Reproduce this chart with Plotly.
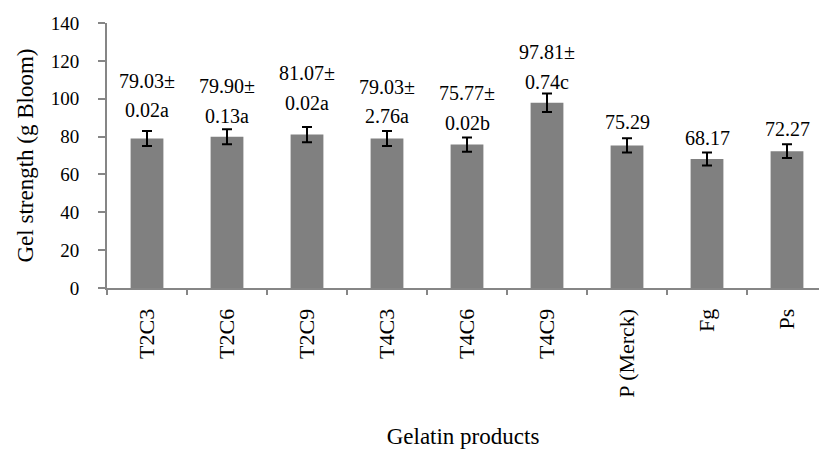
import plotly.graph_objects as go

categories = ["T2C3", "T2C6", "T2C9", "T4C3", "T4C6", "T4C9", "P (Merck)", "Fg", "Ps"]
gel_strength = [79.03, 79.90, 81.07, 79.03, 75.77, 97.81, 75.29, 68.17, 72.27]
error_bars = [3.95, 4.00, 4.05, 3.95, 3.79, 4.89, 3.76, 3.41, 3.61]
label_line1 = ["79.03±", "79.90±", "81.07±", "79.03±", "75.77±", "97.81±", "75.29", "68.17", "72.27"]
label_line2 = ["0.02a", "0.13a", "0.02a", "2.76a", "0.02b", "0.74c", "", "", ""]
y_ticks = [0, 20, 40, 60, 80, 100, 120, 140]

# style: pixel distance of the lowest label line above the bar top
label_offsets = [30, 23, 34, 24, 24, 23, 25, 23, 24]
LINE_GAP = 29.5

FONT = "Liberation Serif"

fig = go.Figure()
fig.add_trace(go.Bar(
    x=categories, y=gel_strength, width=0.41,
    marker=dict(color="#808080", line=dict(width=0)),
    error_y=dict(type="data", array=error_bars, visible=True,
                 color="black", thickness=2, width=5),
    hoverinfo="skip", showlegend=False,
))

annotations = []
for cat, val, l1, l2, off in zip(categories, gel_strength, label_line1, label_line2, label_offsets):
    if l2:
        annotations.append(dict(x=cat, y=val, xref="x", yref="y", text=l2, showarrow=False,
                                yanchor="middle", yshift=off - 2,
                                font=dict(family=FONT, size=20, color="black")))
        annotations.append(dict(x=cat, y=val, xref="x", yref="y", text=l1, showarrow=False,
                                yanchor="middle", yshift=off - 2 + LINE_GAP,
                                font=dict(family=FONT, size=20, color="black")))
    else:
        annotations.append(dict(x=cat, y=val, xref="x", yref="y", text=l1, showarrow=False,
                                yanchor="middle", yshift=off - 2,
                                font=dict(family=FONT, size=20, color="black")))

fig.update_layout(
    width=819, height=449,
    margin=dict(l=107, r=0, t=23, b=161, autoexpand=False),
    paper_bgcolor="white", plot_bgcolor="white",
    font=dict(family=FONT, size=20, color="black"),
    annotations=annotations,
    xaxis=dict(
        range=[-0.5, 8.4],
        showline=True, linecolor="#868686", linewidth=2,
        ticks="outside", ticklen=5, tickwidth=1.5, tickcolor="#868686",
        tickson="boundaries",
        tickangle=-90, tickfont=dict(family=FONT, size=22, color="black"),
        ticklabelstandoff=10,
        showgrid=False, zeroline=False,
        title=dict(text="Gelatin products", font=dict(family=FONT, size=23, color="black"), standoff=32),
    ),
    yaxis=dict(
        range=[0, 140], tickvals=y_ticks,
        showline=True, linecolor="#868686", linewidth=2,
        ticks="outside", ticklen=7, tickwidth=1.5, tickcolor="#868686",
        tickfont=dict(family=FONT, size=19, color="black"),
        ticklabelstandoff=15,
        showgrid=False, zeroline=False,
        title=dict(text="Gel strength (g Bloom)", font=dict(family=FONT, size=23, color="black"), standoff=11),
    ),
)

fig.write_html("out.html", config={"displayModeBar": False},
               post_script="document.body.style.margin='0';document.body.style.overflow='hidden';")
